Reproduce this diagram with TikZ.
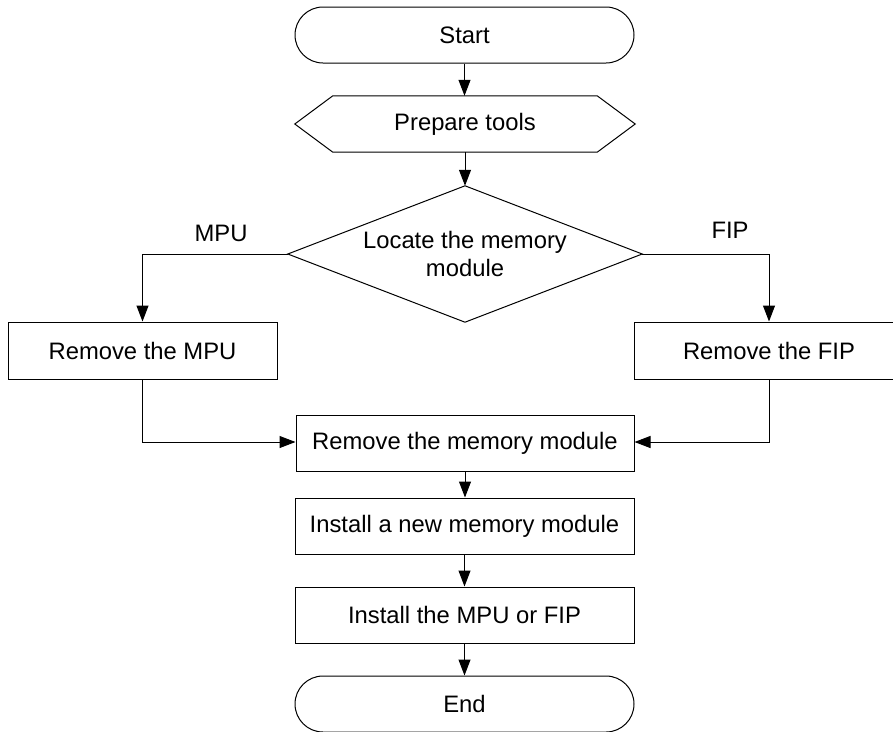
\documentclass[tikz,border=0pt]{standalone}
\usepackage{fontspec}
\setmainfont{Liberation Sans}
\usetikzlibrary{arrows.meta}
\begin{document}
\begin{tikzpicture}[x=1pt,y=-1pt,
  every node/.style={font=\fontsize{23.8}{28}\selectfont, text=black},
  box/.style={draw, line width=1pt, minimum width=339pt, minimum height=56pt, inner sep=0pt},
  sidebox/.style={draw, line width=1pt, minimum width=269pt, minimum height=57pt, inner sep=0pt},
  term/.style={draw, line width=1pt, minimum width=339pt, minimum height=56pt, rounded corners=28pt, inner sep=0pt},
  plain/.style={inner sep=0pt, minimum width=340pt, minimum height=56pt},
  dec/.style={inner sep=0pt, minimum width=354pt, minimum height=136pt, align=center},
  conn/.style={line width=1pt, -{Triangle[length=16pt,width=12pt]}},
  lab/.style={inner sep=0pt}
]
\useasboundingbox (0,0) rectangle (893,731);
\node[term] (start) at (464.5,35) {Start};
\node[plain] (prep) at (465,124) {Prepare tools};
\draw[line width=1pt] (prep.west) -- ([xshift=38pt]prep.north west) -- ([xshift=-38pt]prep.north east) -- (prep.east) -- ([xshift=-38pt]prep.south east) -- ([xshift=38pt]prep.south west) -- cycle;
\node[dec] (loc) at (465,254) {Locate the memory\\module};
\draw[line width=1pt] (loc.north) -- (loc.east) -- (loc.south) -- (loc.west) -- cycle;
\node[sidebox] (mpu) at (142.5,350.5) {Remove the MPU};
\node[sidebox] (fip) at (769,350.5) {Remove the FIP};
\node[box, minimum width=338pt] (mem) at (465,443) {Remove the memory module};
\node[box] (inst) at (464.5,526) {Install a new memory module};
\node[box] (instb) at (464.5,615) {Install the MPU or FIP};
\node[term] (end) at (464.5,704) {End};
\node[lab] (lmpu) at (221,233) {MPU};
\node[lab] (lfip) at (730,230) {FIP};
\coordinate (m1) at (142.5,442);
\coordinate (f1) at (769,442);
\draw[conn] (start) -- (start.south |- prep.north);
\draw[conn] (prep) -- (loc.north);
\draw[conn] (loc.west) -| (mpu.north);
\draw[conn] (loc.east) -| (fip.north);
\draw[conn] (mpu.south) -- (m1) -- (m1 -| mem.west);
\draw[conn] (fip.south) -- (f1) -- (f1 -| mem.east);
\draw[conn] (mem.south) -- (mem.south |- inst.north);
\draw[conn] (inst.south) -- (inst.south |- instb.north);
\draw[conn] (instb.south) -- (instb.south |- end.north);
\end{tikzpicture}
\end{document}
